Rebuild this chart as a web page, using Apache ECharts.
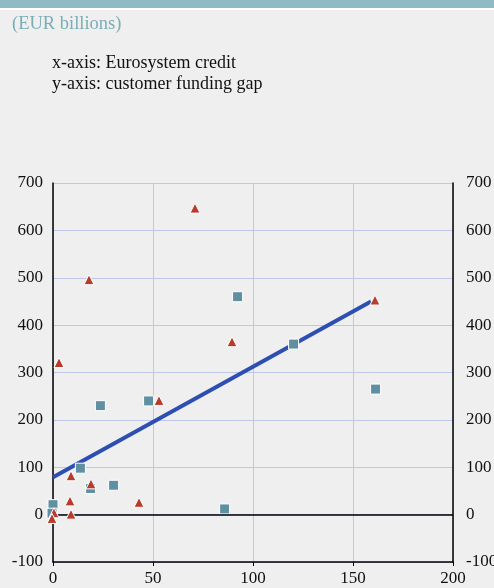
<!DOCTYPE html>
<html>
<head>
<meta charset="utf-8">
<script src="https://cdn.jsdelivr.net/npm/echarts@6/dist/echarts.min.js"></script>
<style>
html,body{margin:0;padding:0;background:#efefef;}
#chart{width:494px;height:588px;}
</style>
</head>
<body>
<div id="chart"></div>
<script>
// Triangles (red): [Eurosystem credit, customer funding gap]
var triangleX = [71, 18, 3, 89.5, 161, 53, 9, 19, 8.5, 43, 9, 0.5, -0.5];
var triangleY = [647, 496, 321, 365, 453, 241, 82, 65, 29, 26, 1, 4, -8];
// Squares (teal)
var squareX = [92.3, 120.3, 161.3, 85.8, 23.7, 47.8, 13.7, 30.3, 18.8, 0, -0.5];
var squareY = [460, 360, 265, 12, 230, 240, 98, 62, 55, 21, 3];
// Fitted line
var lineX = [0, 159];
var lineY = [79, 450];
var xTicks = [0, 50, 100, 150, 200];
var yTicks = [-100, 0, 100, 200, 300, 400, 500, 600, 700];

function pairs(xs, ys){ return xs.map(function(x,i){ return [x, ys[i]]; }); }

var chart = echarts.init(document.getElementById('chart'));
var font = '"Liberation Serif", "Times New Roman", serif';
var yAxisBase = {
  type: 'value', min: yTicks[0], max: yTicks[yTicks.length-1], interval: 100,
  axisLine: {show: true, lineStyle: {color: '#000', width: 1.5}},
  axisTick: {show: false},
  splitLine: {show: true, lineStyle: {color: '#bfc6ec', width: 1}},
  axisLabel: {color: '#111', fontFamily: font, fontSize: 17}
};
chart.setOption({
  backgroundColor: '#efefef',
  animation: false,
  graphic: [
    {type: 'rect', shape: {x: 0, y: 0, width: 494, height: 8}, style: {fill: '#8fbcc4'}},
    {type: 'rect', shape: {x: 0, y: 8, width: 494, height: 2}, style: {fill: '#ffffff'}},
    {type: 'text', left: 12, top: 15, style: {text: '(EUR billions)', fill: '#7aaeb6', font: '18.5px ' + font}},
    {type: 'text', left: 52, top: 54, style: {text: 'x-axis: Eurosystem credit', fill: '#111', font: '18px ' + font}},
    {type: 'text', left: 52, top: 75, style: {text: 'y-axis: customer funding gap', fill: '#111', font: '18px ' + font}}
  ],
  grid: {left: 53, right: 41, top: 183, bottom: 26, containLabel: false, outerBoundsMode: 'none'},
  xAxis: {
    type: 'value', min: xTicks[0], max: xTicks[xTicks.length-1], interval: 50,
    axisLine: {onZero: false, lineStyle: {color: '#000', width: 1.5}},
    axisTick: {show: true, length: 4, lineStyle: {color: '#000', width: 1}},
    splitLine: {show: true, lineStyle: {color: '#bfc6ec', width: 1}},
    axisLabel: {color: '#111', fontFamily: font, fontSize: 17, margin: 8}
  },
  yAxis: [
    Object.assign({}, yAxisBase, {position: 'left', axisLabel: Object.assign({}, yAxisBase.axisLabel, {margin: 10})}),
    Object.assign({}, yAxisBase, {position: 'right', splitLine: {show: false}, axisLabel: Object.assign({}, yAxisBase.axisLabel, {margin: 13})})
  ],
  series: [
    {
      type: 'line', data: pairs(lineX, lineY), showSymbol: false, symbol: 'none',
      lineStyle: {color: '#2d4fb2', width: 4}, z: 3,
      markLine: {silent: true, symbol: 'none', label: {show: false},
        lineStyle: {color: '#000', width: 1.5, type: 'solid'}, data: [{yAxis: 0}]}
    },
    {
      type: 'scatter', data: pairs(squareX, squareY), symbol: 'rect', symbolSize: 10, clip: false,
      itemStyle: {color: '#5f8fa0', borderColor: '#ffffff', borderWidth: 1, opacity: 1}, z: 4
    },
    {
      type: 'scatter', data: pairs(triangleX, triangleY), symbol: 'triangle', symbolSize: 10, clip: false,
      itemStyle: {color: '#b83b2b', borderColor: '#ffffff', borderWidth: 1, opacity: 1}, z: 5
    }
  ]
});
</script>
</body>
</html>
